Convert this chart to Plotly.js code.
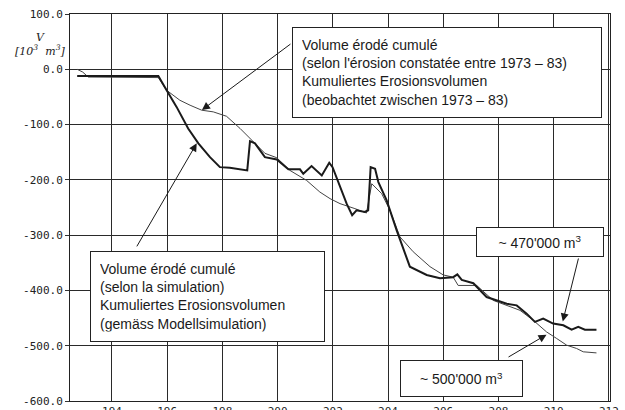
<!DOCTYPE html>
<html>
<head>
<meta charset="utf-8">
<script src="https://cdn.plot.ly/plotly-3.0.1.min.js"></script>
<style>html,body{margin:0;padding:0;background:#fff;}#chart{width:625px;height:410px;}</style>
</head>
<body>
<div id="chart"></div>
<script>
// Simulated cumulative eroded volume (thick line)
const simX = [192.74,195.68,195.98,196.34,196.76,197.13,197.55,197.91,198.27,198.64,198.90,199.00,199.18,199.54,199.97,200.39,200.81,200.93,201.23,201.60,201.87,201.99,202.26,202.50,202.70,202.86,203.16,203.28,203.37,203.53,203.65,203.95,204.31,204.79,205.40,205.88,206.36,206.51,206.67,207.09,207.57,207.93,208.30,208.66,209.02,209.32,209.62,209.98,210.35,210.65,210.89,211.13,211.55];
const simV = [-12,-12,-38,-68,-107,-134,-159,-177,-178,-181,-183,-130,-134,-159,-163,-181,-181,-189,-175,-192,-169,-177,-213,-243,-264,-255,-258,-255,-177,-180,-204,-237,-291,-357,-372,-378,-376,-371,-381,-387,-412,-418,-424,-427,-442,-457,-451,-460,-463,-471,-466,-471,-471];
// Observed cumulative eroded volume 1973-83 (thin line)
const obsX = [192.74,192.94,193.14,195.68,195.98,196.46,196.83,197.25,197.67,198.15,198.64,199.00,199.54,199.97,200.45,201.05,201.53,201.90,202.26,202.80,203.22,203.41,203.77,204.07,204.43,204.91,205.52,206.00,206.36,206.54,207.21,207.81,208.30,208.78,209.26,209.74,210.11,210.47,210.83,211.07,211.55];
const obsV = [0,-5,-14,-15,-38,-56,-65,-74,-77,-85,-107,-125,-152,-160,-183,-201,-222,-234,-243,-252,-260,-207,-225,-255,-303,-330,-357,-372,-376,-391,-391,-418,-427,-436,-454,-475,-487,-499,-505,-511,-513];
const xTicks = [194,196,198,200,202,204,206,208,210,212];
const yTicks = [100,0,-100,-200,-300,-400,-500,-600];
const yTickLabels = ["100.0","0.0","-100.0","-200.0","-300.0","-400.0","-500.0","-600.0"];
const labelObs = "Volume érodé cumulé<br>(selon l'érosion constatée entre 1973 – 83)<br>Kumuliertes Erosionsvolumen<br>(beobachtet zwischen 1973 – 83)";
const labelSim = "Volume érodé cumulé<br>(selon la simulation)<br>Kumuliertes Erosionsvolumen<br>(gemäss Modellsimulation)";
const labelSimEnd = "~ 470'000 m<sup>3</sup>";
const labelObsEnd = "~ 500'000 m<sup>3</sup>";

const traces = [
  {x: obsX, y: obsV, type: 'scatter', mode: 'lines', line: {color: '#444', width: 1}, hoverinfo: 'skip'},
  {x: simX, y: simV, type: 'scatter', mode: 'lines', line: {color: '#1a1a1a', width: 2}, hoverinfo: 'skip'}
];

const boxFont = {family: 'Liberation Sans, Arial, sans-serif', size: 14, color: '#1a1a1a'};
const arrowBase = {text: '', showarrow: true, arrowhead: 2, arrowsize: 1.6, arrowwidth: 1, arrowcolor: '#1a1a1a', axref: 'x', ayref: 'y', standoff: 0};

const layout = {
  width: 625, height: 410,
  margin: {l: 70, r: 15, t: 14, b: 9},
  paper_bgcolor: '#fff', plot_bgcolor: '#fff',
  showlegend: false,
  xaxis: {
    range: [192.48, 212.04], tickvals: xTicks, ticktext: xTicks.map(String),
    showgrid: true, gridcolor: '#2a2a2a', gridwidth: 1, zeroline: false,
    showline: true, linecolor: '#222', linewidth: 1, mirror: true,
    ticks: '', tickfont: {family: 'DejaVu Sans Mono, monospace', size: 11, color: '#222'}
  },
  yaxis: {
    range: [-600, 100], tickvals: yTicks, ticktext: yTickLabels,
    showgrid: true, gridcolor: '#2a2a2a', gridwidth: 1, zeroline: false,
    showline: true, linecolor: '#222', linewidth: 1, mirror: true,
    ticks: 'outside', ticklen: 4, tickcolor: '#333',
    tickfont: {family: 'DejaVu Sans Mono, monospace', size: 11, color: '#222'}
  },
  annotations: [
    {xref: 'paper', yref: 'paper', x: -0.055, y: 0.94, xanchor: 'center', yanchor: 'middle', showarrow: false,
     text: '<i>V</i>', font: {family: 'DejaVu Serif, serif', size: 11, color: '#222'}},
    {xref: 'paper', yref: 'paper', x: -0.055, y: 0.905, xanchor: 'center', yanchor: 'middle', showarrow: false,
     text: '<i>[10<sup>3</sup>  m<sup>3</sup>]</i>', font: {family: 'DejaVu Serif, serif', size: 11, color: '#222'}},
    {xref: 'paper', yref: 'paper', x: (292-70)/540, y: (401-27)/387, xanchor: 'left', yanchor: 'top', showarrow: false,
     text: labelObs, align: 'left', width: 290, font: boxFont, bgcolor: '#fff', bordercolor: '#222', borderwidth: 1, borderpad: 9},
    {xref: 'paper', yref: 'paper', x: (90-70)/540, y: (401-251)/387, xanchor: 'left', yanchor: 'top', showarrow: false,
     text: labelSim, align: 'left', width: 215, font: boxFont, bgcolor: '#fff', bordercolor: '#222', borderwidth: 1, borderpad: 9},
    {xref: 'paper', yref: 'paper', x: (476-70)/540, y: (401-227)/387, xanchor: 'left', yanchor: 'top', showarrow: false,
     text: labelSimEnd, align: 'center', width: 116, font: boxFont, bgcolor: '#fff', bordercolor: '#222', borderwidth: 1, borderpad: 5},
    {xref: 'paper', yref: 'paper', x: (400-70)/540, y: (401-360)/387, xanchor: 'left', yanchor: 'top', showarrow: false,
     text: labelObsEnd, align: 'center', width: 111, height: 25, font: boxFont, bgcolor: '#fff', bordercolor: '#222', borderwidth: 1, borderpad: 5},
    Object.assign({}, arrowBase, {x: 197.26, y: -73.6, ax: 200.52, ay: 47.6}),
    Object.assign({}, arrowBase, {x: 197.07, y: -133.8, ax: 194.87, ay: -323}),
    Object.assign({}, arrowBase, {x: 210.33, y: -456, ax: 210.91, ay: -339.5}),
    Object.assign({}, arrowBase, {x: 209.74, y: -480, ax: 208.31, ay: -522})
  ]
};

Plotly.newPlot('chart', traces, layout, {displayModeBar: false, staticPlot: true});
</script>
</body>
</html>
